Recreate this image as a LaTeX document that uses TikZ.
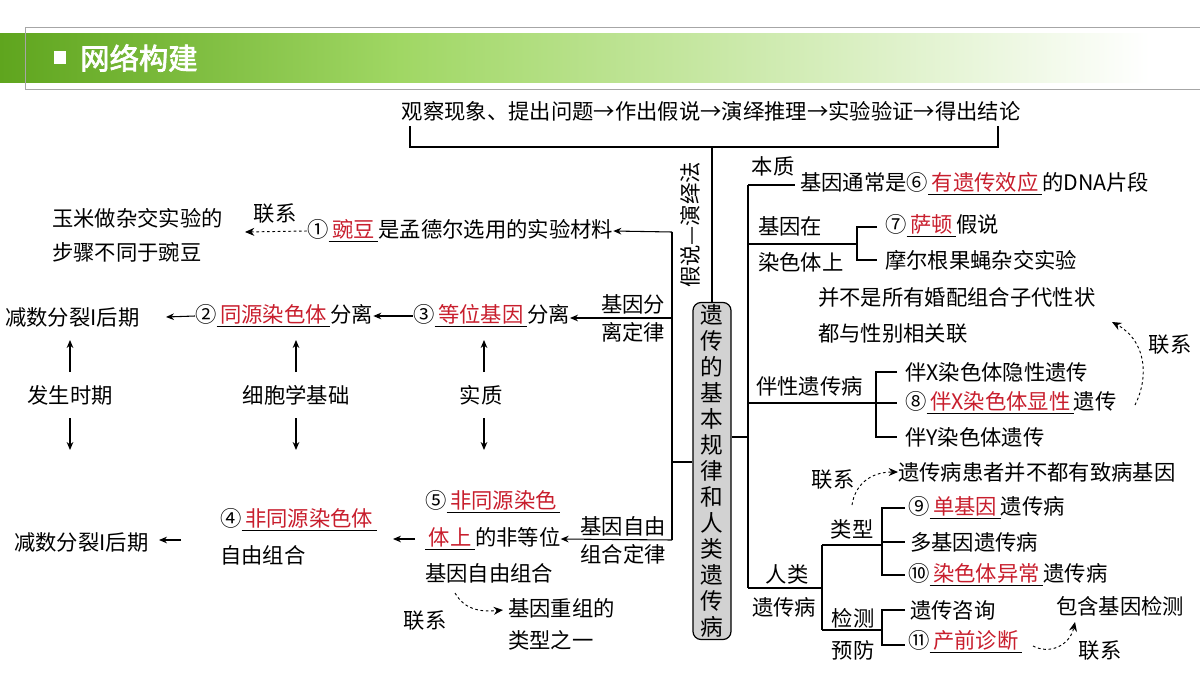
\documentclass[tikz,border=0pt]{standalone}
\usepackage{fontspec}
\setmainfont{Noto Sans CJK SC}[AutoFakeBold=2.5]
\usetikzlibrary{arrows.meta}
\definecolor{ans}{RGB}{200,30,45}
\definecolor{gd}{RGB}{95,165,30}
\definecolor{gm}{RGB}{160,215,100}
\newcommand{\ans}[1]{\underline{\textcolor{ans}{\,#1\,}}}
\begin{document}
\begin{tikzpicture}[x=0.75pt,y=-0.75pt,
  t/.style={inner sep=0pt,font=\fontsize{16}{21}\selectfont,align=left},
  ln/.style={line width=0.8pt},
  ar/.style={line width=0.8pt,-{Stealth[length=6pt,width=5pt]}},
  da/.style={line width=0.7pt,dashed,dash pattern=on 2pt off 2pt,-{Stealth[length=7pt,width=6pt]}}]
\useasboundingbox (0,0) rectangle (1200,675);
% header
\shade[left color=gd,right color=gm] (0,33) rectangle (400,82);
\shade[left color=gm,right color=white] (400,33) rectangle (1150,82);
\fill[white] (1150,33) rectangle (1200,82);
\draw[gray!70,line width=0.6pt] (1200,27) -- (25,27) -- (25,89) -- (1200,89);
\fill[white] (54,51) rectangle (66,64);
\node[inner sep=0pt,anchor=west,text=white,font=\fontsize{22}{26}\selectfont\bfseries] (hd) at (80,58) {网络构建};
% top
\node[t] (top) at (711,111) {观察现象、提出问题→作出假说→演绎推理→实验验证→得出结论};
\coordinate (bl) at (410,147); \coordinate (br) at (998,147); \coordinate (bc) at (712,147);
\draw[ln] (410,126) -- (bl) -- (br) -- (998,126);
\node[rounded corners=6pt,draw,line width=0.9pt,fill=gray!35,minimum width=28.5pt,minimum height=252.75pt,inner sep=0pt] (c) at (712,471) {};
\node[inner sep=0pt,align=center,font=\fontsize{17}{19.5}\selectfont] at (712,471) {遗\\传\\的\\基\\本\\规\\律\\和\\人\\类\\遗\\传\\病};
\draw[ln] (bc) -- (c.north);
\node[t,rotate=90] (hy) at (690,225) {假说—演绎法};
% left trunk
\coordinate (lj) at (672,462);
\draw[ln] (c.west|-lj) -- (lj);
\draw[ln] (672,232) -- (672,540);
\node[t,anchor=west] (n1) at (307,231) {①\ans{豌豆}是孟德尔选用的实验材料};
\draw[ar] (672,232) -- (n1.east);
\node[t,anchor=west] (g1) at (52,218) {玉米做杂交实验的};
\node[t,anchor=west] (g2) at (52,252) {步骤不同于豌豆};
\node[t] (lx1) at (275,214) {联系};
\coordinate (g1e) at (245,232);
\draw[da] (n1.west) -- (g1e);
\node[t,align=center] (fl) at (633,318) {基因分\\离定律};
\node[t,anchor=west] (n3) at (413,316) {③\ans{等位基因}分离};
\draw[ar] (672,318) -- (n3.east|-0,318);
\node[t,anchor=west] (n2) at (195,316) {②\ans{同源染色体}分离};
\draw[ar] (n3.west) -- (n2.east);
\node[t,anchor=west] (m1) at (5,317) {减数分裂I后期};
\coordinate (m1e) at (166,317);
\draw[ar] (n2.west) -- (m1e);
\node[t] (s1) at (70,395) {发生时期};
\node[t] (s2) at (296,395) {细胞学基础};
\node[t] (s3) at (481,395) {实质};
\foreach \s/\xx in {s1/70,s2/296,s3/484}{
  \draw[ar] (\xx,372) -- (\xx,340);
  \draw[ar] (\xx,418) -- (\xx,450);}
\node[t,align=center] (fz) at (623,540) {基因自由\\组合定律};
\node[t,anchor=west] (n5a) at (425,502) {⑤\ans{非同源染色}};
\node[t,anchor=west] (n5b) at (425,539) {\ans{体上}的非等位};
\node[t,anchor=west] (n5c) at (425,573) {基因自由组合};
\draw[ar] (672,540) -- (n5b.east);
\node[t,anchor=west] (n4) at (220,520) {④\ans{非同源染色体}};
\node[t,anchor=west] (n4b) at (220,555) {自由组合};
\draw[ar] (415,539) -- (393,539);
\node[t,anchor=west] (m2) at (14,542) {减数分裂I后期};
\draw[ar] (181,540) -- (159,540);
\node[t] (lx2) at (425,621) {联系};
\node[t,align=left,anchor=north west] (cz) at (508,598) {基因重组的\\[3pt]类型之一};
\draw[da] (455,593) .. controls (465,610) and (480,612) .. (503,610);
% right trunk
\draw[ln] (c.east|-0,437) -- (748,437);
\draw[ln] (748,185) -- (748,588);
\node[t] (bz) at (773,166) {本质};
\draw[ln] (748,185) -- (795,185);
\node[t,anchor=west] (n6) at (800,184) {基因通常是⑥\ans{有遗传效应}的DNA片段};
\node[t,align=left,anchor=west] (jy) at (758,244) {基因在\\[6pt]染色体上};
\draw[ln] (748,244) -- (857,244);
\draw[ln] (877,227) -- (857,227) -- (857,260) -- (877,260);
\node[t,anchor=west] (n7) at (885,226) {⑦\ans{萨顿}假说};
\node[t,anchor=west] (mg) at (885,260) {摩尔根果蝇杂交实验};
\node[t,align=left,anchor=west] (bx) at (818,315) {并不是所有婚配组合子代性状\\[6pt]都与性别相关联};
\node[t,anchor=west] (bs) at (756,386) {伴性遗传病};
\draw[ln] (748,403) -- (876,403);
\draw[ln] (897,372) -- (876,372) -- (876,437) -- (897,437);
\draw[ln] (876,403) -- (897,403);
\node[t,anchor=west] (x1) at (905,372) {伴X染色体隐性遗传};
\node[t,anchor=west] (x2) at (905,403) {⑧\ans{伴X染色体显性}遗传};
\node[t,anchor=west] (x3) at (905,437) {伴Y染色体遗传};
\node[t] (lx3) at (1170,345) {联系};
\draw[da] (1135,405) .. controls (1150,375) and (1145,340) .. (1112,322);
\node[t] (rl) at (787,574) {人类};
\node[t,anchor=west] (rl2) at (752,607) {遗传病};
\draw[ln] (748,588) -- (822,588);
\draw[ln] (822,545) -- (822,630);
\draw[ln] (822,545) -- (882,545);
\node[t] (lx) at (852,529) {类型};
\draw[ln] (905,508) -- (882,508) -- (882,575) -- (905,575);
\draw[ln] (882,542) -- (905,542);
\node[t,anchor=west] (k1) at (908,508) {⑨\ans{单基因}遗传病};
\node[t,anchor=west] (k2) at (910,542) {多基因遗传病};
\node[t,anchor=west] (k3) at (908,575) {⑩\ans{染色体异常}遗传病};
\node[t] (lx4) at (833,480) {联系};
\node[t,anchor=west] (hz) at (898,472) {遗传病患者并不都有致病基因};
\draw[da] (852,505) .. controls (855,485) and (870,472) .. (hz.west);
\draw[ln] (822,630) -- (882,630);
\node[t] (jc) at (853,618) {检测};
\node[t] (yf) at (853,650) {预防};
\draw[ln] (905,610) -- (882,610) -- (882,645) -- (905,645);
\node[t,anchor=west] (d1) at (910,610) {遗传咨询};
\node[t,anchor=west] (d2) at (908,642) {⑪\ans{产前诊断}};
\node[t] (bh) at (1120,606) {包含基因检测};
\node[t] (lx5) at (1100,651) {联系};
\draw[da] (1033,646) .. controls (1050,655) and (1070,645) .. (1075,622);
\end{tikzpicture}
\end{document}
